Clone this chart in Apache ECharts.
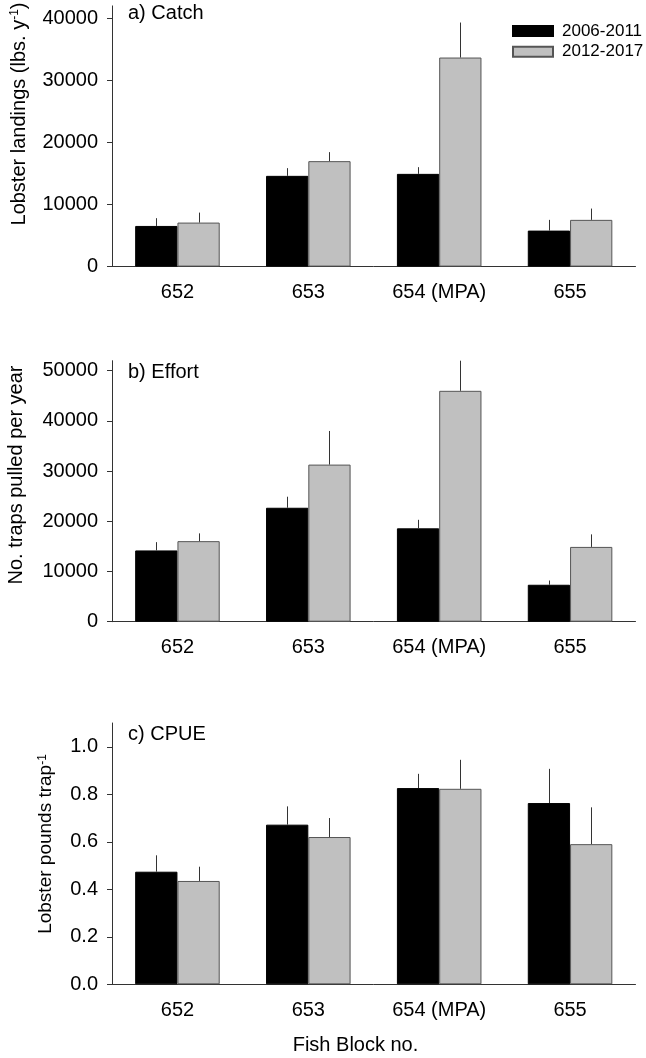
<!DOCTYPE html>
<html>
<head>
<meta charset="utf-8">
<script src="https://cdn.jsdelivr.net/npm/echarts@6/dist/echarts.min.js"></script>
<style>
html,body{margin:0;padding:0;background:#fff;}
#chart{width:646px;height:1058px;}
</style>
</head>
<body>
<div id="chart"></div>
<script>
// ---- data ----
const categories = ['652', '653', '654 (MPA)', '655'];
const seriesNames = ['2006-2011', '2012-2017'];

const catchEarly = [6550, 14620, 14940, 5800];
const catchEarlyErr = [1250, 1240, 1080, 1730];
const catchLate = [7090, 16990, 33680, 7530];
const catchLateErr = [1610, 1450, 5640, 1820];

const effortEarly = [14200, 22700, 18600, 7360];
const effortEarlyErr = [1650, 2200, 1700, 840];
const effortLate = [16050, 31300, 46000, 14900];
const effortLateErr = [1550, 6700, 6000, 2500];

const cpueEarly = [0.474, 0.672, 0.826, 0.763];
const cpueEarlyErr = [0.069, 0.077, 0.060, 0.144];
const cpueLate = [0.435, 0.620, 0.823, 0.590];
const cpueLateErr = [0.060, 0.080, 0.122, 0.155];

const catchTicks = [0, 10000, 20000, 30000, 40000];
const effortTicks = [0, 10000, 20000, 30000, 40000, 50000];
const cpueTicks = [0, 0.2, 0.4, 0.6, 0.8, 1.0];

const panelLabels = ['a) Catch', 'b) Effort', 'c) CPUE'];

// ---- chart ----
const FONT = '"Liberation Sans", Arial, sans-serif';
const AXIS_COLOR = '#333';
const GAP = 0.354;

const panels = [
  {early: catchEarly, earlyErr: catchEarlyErr, late: catchLate, lateErr: catchLateErr,
   ticks: catchTicks, max: 42000, fmt: v => String(v),
   grid: {left: 112, right: 10.5, top: 5.9, bottom: 791.4}},
  {early: effortEarly, earlyErr: effortEarlyErr, late: effortLate, lateErr: effortLateErr,
   ticks: effortTicks, max: 52000, fmt: v => String(v),
   grid: {left: 112, right: 10.5, top: 360.7, bottom: 436.3}},
  {early: cpueEarly, earlyErr: cpueEarlyErr, late: cpueLate, lateErr: cpueLateErr,
   ticks: cpueTicks, max: 1.1, fmt: v => v.toFixed(1),
   grid: {left: 112, right: 10.5, top: 723, bottom: 73.7}}
];

function errRender(side) {
  return function (params, api) {
    const idx = api.value(0);
    const v = api.value(1);
    const e = api.value(2);
    const p0 = api.coord([idx, v]);
    const p1 = api.coord([idx, v + e]);
    const band = api.size([1, 0])[0];
    const bw = band * (1 - GAP) / 2;
    const x = Math.round(p0[0] + side * bw / 2) + 0.5;
    return {
      type: 'line',
      shape: {x1: x, y1: p0[1], x2: x, y2: p1[1]},
      style: {stroke: '#333', lineWidth: 1}
    };
  };
}

const grid = [], xAxis = [], yAxis = [], series = [];
panels.forEach((p, i) => {
  grid.push(p.grid);
  xAxis.push({
    type: 'category', gridIndex: i, data: categories,
    axisLine: {lineStyle: {color: AXIS_COLOR, width: 1}},
    axisTick: {alignWithLabel: true, length: 5, lineStyle: {color: AXIS_COLOR}},
    axisLabel: {color: '#000', fontSize: 20, fontFamily: FONT, margin: 16},
    splitLine: {show: false}
  });
  yAxis.push({
    type: 'value', gridIndex: i, min: 0, max: p.max,
    axisLine: {show: true, lineStyle: {color: AXIS_COLOR, width: 1}},
    axisTick: {show: true, length: 5, customValues: p.ticks, lineStyle: {color: AXIS_COLOR}},
    axisLabel: {color: '#000', fontSize: 20, fontFamily: FONT, margin: 14,
                customValues: p.ticks, formatter: p.fmt},
    splitLine: {show: false}
  });
  series.push({
    name: seriesNames[0], type: 'bar', xAxisIndex: i, yAxisIndex: i,
    data: p.early, barGap: '0%', barCategoryGap: (GAP * 100) + '%',
    itemStyle: {color: '#000', borderColor: '#000', borderWidth: 1},
    emphasis: {disabled: true}, animation: false
  });
  series.push({
    name: seriesNames[1], type: 'bar', xAxisIndex: i, yAxisIndex: i,
    data: p.late, barGap: '0%', barCategoryGap: (GAP * 100) + '%',
    itemStyle: {color: '#c0c0c0', borderColor: '#555', borderWidth: 1},
    emphasis: {disabled: true}, animation: false
  });
  series.push({
    type: 'custom', xAxisIndex: i, yAxisIndex: i, z: 5,
    renderItem: errRender(-1), animation: false,
    data: p.early.map((v, k) => [k, v, p.earlyErr[k]])
  });
  series.push({
    type: 'custom', xAxisIndex: i, yAxisIndex: i, z: 5,
    renderItem: errRender(1), animation: false,
    data: p.late.map((v, k) => [k, v, p.lateErr[k]])
  });
});

function rotTitle(x, y, main, size) {
  return {
    type: 'text', x: x, y: y, rotation: Math.PI / 2, silent: true,
    style: {
      text: main, align: 'center', verticalAlign: 'middle', fill: '#000',
      fontSize: size, fontFamily: FONT,
      rich: {
        m: {fontSize: size, fontFamily: FONT, fill: '#000'},
        s: {fontSize: 12, fontFamily: FONT, fill: '#000', verticalAlign: 'top'}
      }
    }
  };
}

function plainText(x, y, txt, align) {
  return {
    type: 'text', x: x, y: y, silent: true,
    style: {text: txt, align: align, verticalAlign: 'middle', fill: '#000',
            fontSize: 20, fontFamily: FONT}
  };
}

const graphic = [
  plainText(128, 13, panelLabels[0], 'left'),
  plainText(128, 372, panelLabels[1], 'left'),
  plainText(128, 734, panelLabels[2], 'left'),
  rotTitle(19, 114, '{m|Lobster landings (lbs. y}{s|-1}{m|)}', 20),
  rotTitle(16, 475, '{m|No. traps pulled per year}', 20),
  rotTitle(46, 844, '{m|Lobster pounds trap}{s|-1}', 19),
  plainText(355.5, 1045, 'Fish Block no.', 'center')
];

const chart = echarts.init(document.getElementById('chart'), null, {renderer: 'canvas'});
chart.setOption({
  backgroundColor: '#fff',
  animation: false,
  grid: grid,
  xAxis: xAxis,
  yAxis: yAxis,
  legend: {
    data: seriesNames, orient: 'vertical', left: 512, top: 22.5, padding: 0,
    itemWidth: 40, itemHeight: 10, itemGap: 3.7, selectedMode: false,
    icon: 'rect',
    textStyle: {color: '#000', fontSize: 17, fontFamily: FONT, padding: [0, 0, 0, 4]}
  },
  series: series,
  graphic: graphic
});
</script>
</body>
</html>
